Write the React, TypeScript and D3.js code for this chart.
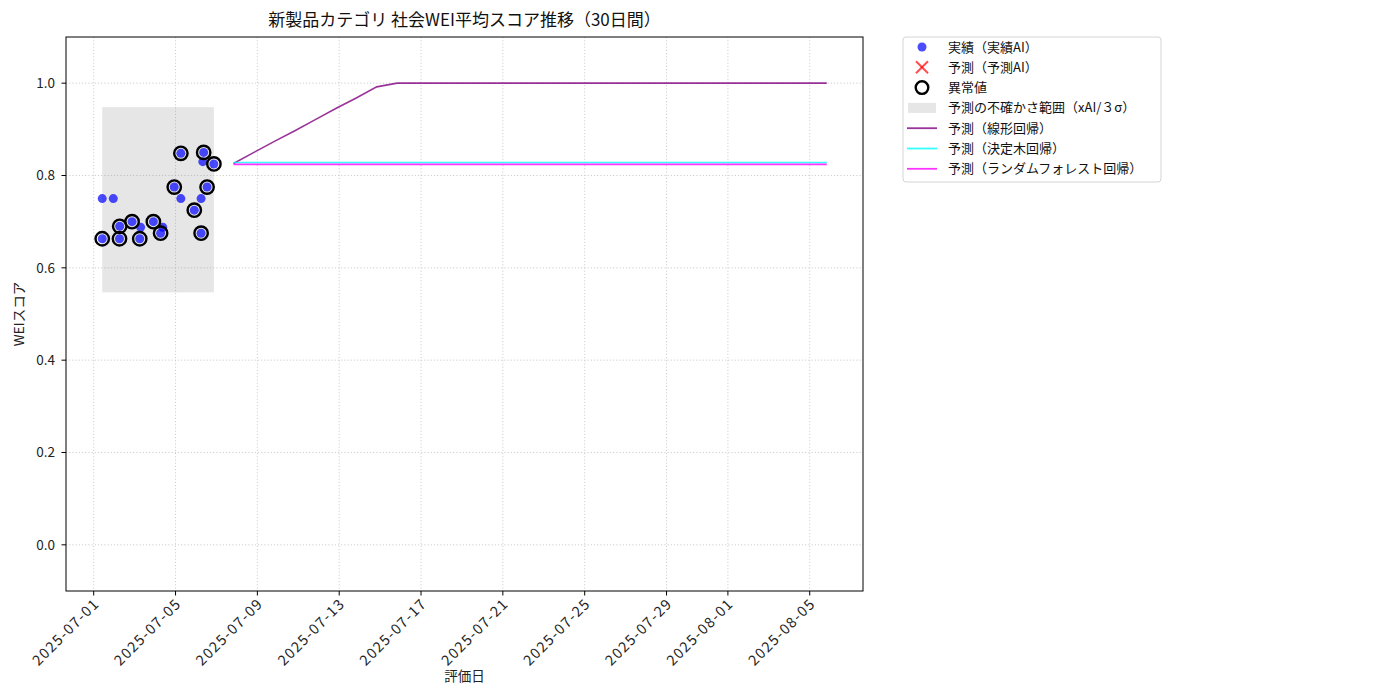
import * as d3 from 'd3';

// Chart data
const actualDates = [
  '2025-07-01 10:00', '2025-07-01 10:00', '2025-07-01 23:00', '2025-07-02 06:15',
  '2025-07-02 06:30', '2025-07-02 21:00', '2025-07-03 06:00', '2025-07-03 07:00',
  '2025-07-03 22:00', '2025-07-04 06:30', '2025-07-04 09:00', '2025-07-04 22:30',
  '2025-07-05 06:15', '2025-07-05 06:15', '2025-07-05 22:00', '2025-07-06 06:00',
  '2025-07-06 06:00', '2025-07-06 08:00', '2025-07-06 09:00', '2025-07-06 13:00',
  '2025-07-06 21:00',
];
const actualValues = [
  0.750, 0.663, 0.750, 0.663, 0.690, 0.700, 0.663, 0.688, 0.700, 0.675, 0.688,
  0.775, 0.750, 0.848, 0.725, 0.750, 0.675, 0.830, 0.850, 0.775, 0.825,
];
const anomalyFlags = [
  0, 1, 0, 1, 1, 1, 1, 0, 1, 1, 0, 1, 0, 1, 1, 0, 1, 0, 1, 1, 1,
];

const bandLower = 0.547;
const bandUpper = 0.948;

const forecastDates = [
  '2025-07-07 20:00', '2025-07-08 20:00', '2025-07-09 20:00', '2025-07-10 20:00',
  '2025-07-11 20:00', '2025-07-12 20:00', '2025-07-13 20:00', '2025-07-14 20:00',
  '2025-07-15 20:00', '2025-07-16 20:00', '2025-07-17 20:00', '2025-07-18 20:00',
  '2025-07-19 20:00', '2025-07-20 20:00', '2025-07-21 20:00', '2025-07-22 20:00',
  '2025-07-23 20:00', '2025-07-24 20:00', '2025-07-25 20:00', '2025-07-26 20:00',
  '2025-07-27 20:00', '2025-07-28 20:00', '2025-07-29 20:00', '2025-07-30 20:00',
  '2025-07-31 20:00', '2025-08-01 20:00', '2025-08-02 20:00', '2025-08-03 20:00',
  '2025-08-04 20:00', '2025-08-05 20:00',
];
const linearValues = [
  0.826, 0.850, 0.874, 0.897, 0.921, 0.945, 0.968, 0.992, 1.0, 1.0,
  1.0, 1.0, 1.0, 1.0, 1.0, 1.0, 1.0, 1.0, 1.0, 1.0,
  1.0, 1.0, 1.0, 1.0, 1.0, 1.0, 1.0, 1.0, 1.0, 1.0,
];
const treeValues = [
  0.828, 0.828, 0.828, 0.828, 0.828, 0.828, 0.828, 0.828, 0.828, 0.828,
  0.828, 0.828, 0.828, 0.828, 0.828, 0.828, 0.828, 0.828, 0.828, 0.828,
  0.828, 0.828, 0.828, 0.828, 0.828, 0.828, 0.828, 0.828, 0.828, 0.828,
];
const forestValues = [
  0.824, 0.824, 0.824, 0.824, 0.824, 0.824, 0.824, 0.824, 0.824, 0.824,
  0.824, 0.824, 0.824, 0.824, 0.824, 0.824, 0.824, 0.824, 0.824, 0.824,
  0.824, 0.824, 0.824, 0.824, 0.824, 0.824, 0.824, 0.824, 0.824, 0.824,
];

const xTickLabels = [
  '2025-07-01', '2025-07-05', '2025-07-09', '2025-07-13', '2025-07-17',
  '2025-07-21', '2025-07-25', '2025-07-29', '2025-08-01', '2025-08-05',
];
const yTicks = [0.0, 0.2, 0.4, 0.6, 0.8, 1.0];

const legendLabels = [
  '実績（実績AI）', '予測（予測AI）', '異常値', '予測の不確かさ範囲（xAI/３σ）',
  '予測（線形回帰）', '予測（決定木回帰）', '予測（ランダムフォレスト回帰）',
];

// Layout
const WIDTH = 1400;
const HEIGHT = 700;
const PLOT = { left: 66, right: 863, top: 37, bottom: 591 };
const FONT = '"Noto Sans CJK JP", "Noto Sans", sans-serif';
const COLOR_LINEAR = 'rgba(128,0,128,0.8)';
const COLOR_TREE = 'rgba(0,255,255,0.8)';
const COLOR_FOREST = 'rgba(255,0,255,0.8)';
const COLOR_ACTUAL = 'rgba(0,0,255,0.7)';
const GRID = '#c4c4c4';

const parse = d3.timeParse('%Y-%m-%d %H:%M');
const parseDay = d3.timeParse('%Y-%m-%d');

export default function App() {
  const aDates = actualDates.map((d) => parse(d) as Date);
  const fDates = forecastDates.map((d) => parse(d) as Date);
  const allDates = [...aDates, ...fDates];
  const [t0, t1] = d3.extent(allDates) as [Date, Date];
  const pad = (t1.getTime() - t0.getTime()) * 0.05;

  const x = d3.scaleTime()
    .domain([new Date(t0.getTime() - pad), new Date(t1.getTime() + pad)])
    .range([PLOT.left, PLOT.right]);
  const y = d3.scaleLinear().domain([-0.1, 1.1]).range([PLOT.bottom, PLOT.top]);

  const line = d3.line<[Date, number]>()
    .x((d) => x(d[0]))
    .y((d) => y(d[1]));

  const series = [
    { values: linearValues, color: COLOR_LINEAR },
    { values: treeValues, color: COLOR_TREE },
    { values: forestValues, color: COLOR_FOREST },
  ];

  const [aMin, aMax] = d3.extent(aDates) as [Date, Date];
  const xTicks = xTickLabels.map((d) => parseDay(d) as Date);

  const legendX = 903;
  const legendY = 37;
  const rowH = 20.3;

  return (
    <svg
      width={WIDTH}
      height={HEIGHT}
      style={{ position: 'absolute', left: 0, top: 0, background: '#fff', fontFamily: FONT }}
    >
      {/* grid */}
      <g stroke={GRID} strokeWidth={0.8} strokeDasharray="1.2,2">
        {xTicks.map((t, i) => (
          <line key={'gx' + i} x1={x(t)} x2={x(t)} y1={PLOT.top} y2={PLOT.bottom} />
        ))}
        {yTicks.map((v, i) => (
          <line key={'gy' + i} x1={PLOT.left} x2={PLOT.right} y1={y(v)} y2={y(v)} />
        ))}
      </g>

      {/* uncertainty band */}
      <rect
        x={x(aMin)}
        y={y(bandUpper)}
        width={x(aMax) - x(aMin)}
        height={y(bandLower) - y(bandUpper)}
        fill="rgba(128,128,128,0.2)"
      />

      {/* forecast lines */}
      {series.map((s, i) => (
        <path
          key={'s' + i}
          d={line(fDates.map((d, j) => [d, s.values[j]] as [Date, number])) || ''}
          fill="none"
          stroke={s.color}
          strokeWidth={1.6}
        />
      ))}

      {/* actual points */}
      {aDates.map((d, i) => (
        <circle key={'a' + i} cx={x(d)} cy={y(actualValues[i])} r={4.5} fill={COLOR_ACTUAL} />
      ))}

      {/* anomalies */}
      {aDates.map((d, i) =>
        anomalyFlags[i] ? (
          <circle
            key={'an' + i}
            cx={x(d)}
            cy={y(actualValues[i])}
            r={6.7}
            fill="none"
            stroke="#000"
            strokeWidth={2.4}
          />
        ) : null
      )}

      {/* frame */}
      <rect
        x={PLOT.left}
        y={PLOT.top}
        width={PLOT.right - PLOT.left}
        height={PLOT.bottom - PLOT.top}
        fill="none"
        stroke="#000"
        strokeWidth={1}
      />

      {/* y axis */}
      <g fontSize={13.5} fill="#222">
        {yTicks.map((v, i) => (
          <g key={'yt' + i}>
            <line x1={PLOT.left - 4.5} x2={PLOT.left} y1={y(v)} y2={y(v)} stroke="#000" />
            <text x={PLOT.left - 11} y={y(v)} dy="0.35em" textAnchor="end">
              {v.toFixed(1)}
            </text>
          </g>
        ))}
      </g>

      {/* x axis */}
      <g fontSize={14.5} fill="#222" letterSpacing={1.3}>
        {xTicks.map((t, i) => (
          <g key={'xt' + i}>
            <line x1={x(t)} x2={x(t)} y1={PLOT.bottom} y2={PLOT.bottom + 4.5} stroke="#000" />
            <text
              transform={`translate(${x(t) + 3},${PLOT.bottom + 10}) rotate(-45)`}
              textAnchor="end"
              dy="0.35em"
            >
              {xTickLabels[i]}
            </text>
          </g>
        ))}
      </g>

      {/* labels */}
      <text x={(PLOT.left + PLOT.right) / 2} y={26} textAnchor="middle" fontSize={17} fill="#111">
        新製品カテゴリ 社会WEI平均スコア推移（30日間）
      </text>
      <text x={(PLOT.left + PLOT.right) / 2} y={681} textAnchor="middle" fontSize={13.5} fill="#222">
        評価日
      </text>
      <text
        transform={`translate(24,${(PLOT.top + PLOT.bottom) / 2}) rotate(-90)`}
        textAnchor="middle"
        fontSize={13.5}
        fill="#222"
      >
        WEIスコア
      </text>

      {/* legend */}
      <g>
        <rect
          x={legendX}
          y={legendY}
          width={258}
          height={145}
          rx={3}
          fill="rgba(255,255,255,0.8)"
          stroke="#d4d4d4"
        />
        {legendLabels.map((label, i) => {
          const cy = legendY + 10 + i * rowH;
          const mx = legendX + 19;
          let marker: any = null;
          if (i === 0) marker = <circle cx={mx} cy={cy} r={4.5} fill={COLOR_ACTUAL} />;
          if (i === 1)
            marker = (
              <g stroke="rgba(255,0,0,0.7)" strokeWidth={2}>
                <line x1={mx - 6} x2={mx + 6} y1={cy - 6} y2={cy + 6} />
                <line x1={mx - 6} x2={mx + 6} y1={cy + 6} y2={cy - 6} />
              </g>
            );
          if (i === 2)
            marker = <circle cx={mx} cy={cy} r={6.3} fill="none" stroke="#000" strokeWidth={2.4} />;
          if (i === 3)
            marker = (
              <rect x={legendX + 5} y={cy - 5} width={28} height={10} fill="rgba(128,128,128,0.2)" />
            );
          if (i >= 4)
            marker = (
              <line
                x1={legendX + 4}
                x2={legendX + 34}
                y1={cy}
                y2={cy}
                stroke={series[i - 4].color}
                strokeWidth={1.8}
              />
            );
          return (
            <g key={'lg' + i}>
              {marker}
              <text x={legendX + 45} y={cy} dy="0.35em" fontSize={13} fill="#111">
                {label}
              </text>
            </g>
          );
        })}
      </g>
    </svg>
  );
}
